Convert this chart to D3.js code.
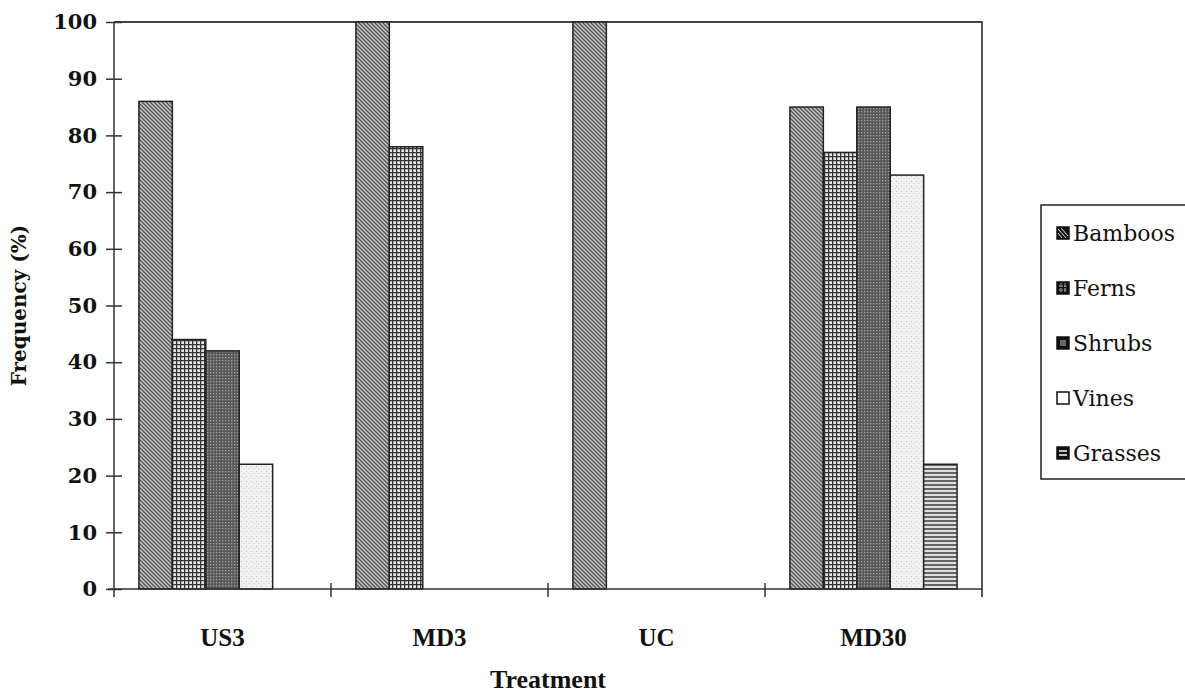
<!DOCTYPE html>
<html>
<head>
<meta charset="utf-8">
<title>Frequency by treatment</title>
<style>
    body { margin: 0; background: white; }
    text { font-family: "DejaVu Serif", serif; fill: #111; }
    .axis line, .axis path { stroke: #333; stroke-width: 1.5; }
</style>
</head>
<body>
<div id="chart"></div>
<script src="https://cdn.jsdelivr.net/npm/d3@7/dist/d3.min.js"></script>
<script>
    // data
    let treatments = ["US3", "MD3", "UC", "MD30"]
    let groups = ["Bamboos", "Ferns", "Shrubs", "Vines", "Grasses"]
    let bamboos = [86, 100, 100, 85]
    let ferns   = [44, 78, 0, 77]
    let shrubs  = [42, 0, 0, 85]
    let vines   = [22, 0, 0, 73]
    let grasses = [0, 0, 0, 22]
    let yTicks = [0, 10, 20, 30, 40, 50, 60, 70, 80, 90, 100]

    let series = [bamboos, ferns, shrubs, vines, grasses]

    let width = 1185, height = 695
    let plotLeft = 114, plotRight = 982, plotTop = 22, plotBottom = 589

    let svg = d3.select("#chart").append("svg")
        .attr("width", width)
        .attr("height", height)

    // fill patterns, roughly like the scanned hatching
    let defs = svg.append("defs")

    let p = defs.append("pattern").attr("id", "pat-Bamboos")
        .attr("patternUnits", "userSpaceOnUse").attr("width", 4).attr("height", 4)
    p.append("rect").attr("width", 4).attr("height", 4).attr("fill", "#c4c4c4")
    p.append("path").attr("d", "M-1,-1 L5,5 M-1,3 L1,5 M3,-1 L5,1")
        .attr("stroke", "#555").attr("stroke-width", 1.3)

    p = defs.append("pattern").attr("id", "pat-Ferns")
        .attr("patternUnits", "userSpaceOnUse").attr("width", 4).attr("height", 4)
    p.append("rect").attr("width", 4).attr("height", 4).attr("fill", "#e8e8e8")
    p.append("path").attr("d", "M0,0.6 H4 M0.6,0 V4")
        .attr("stroke", "#333").attr("stroke-width", 1.4)

    p = defs.append("pattern").attr("id", "pat-Shrubs")
        .attr("patternUnits", "userSpaceOnUse").attr("width", 3).attr("height", 3)
    p.append("rect").attr("width", 3).attr("height", 3).attr("fill", "#595959")
    p.append("rect").attr("x", 0).attr("y", 0).attr("width", 1.3).attr("height", 1.3).attr("fill", "#a0a0a0")

    p = defs.append("pattern").attr("id", "pat-Vines")
        .attr("patternUnits", "userSpaceOnUse").attr("width", 5).attr("height", 5)
    p.append("rect").attr("width", 5).attr("height", 5).attr("fill", "#f1f1f1")
    p.append("rect").attr("x", 1).attr("y", 1).attr("width", 1).attr("height", 1).attr("fill", "#c4c4c4")
    p.append("rect").attr("x", 3.5).attr("y", 3).attr("width", 1).attr("height", 1).attr("fill", "#d0d0d0")

    p = defs.append("pattern").attr("id", "pat-Grasses")
        .attr("patternUnits", "userSpaceOnUse").attr("width", 4).attr("height", 4)
    p.append("rect").attr("width", 4).attr("height", 4).attr("fill", "#e0e0e0")
    p.append("path").attr("d", "M0,1 H4").attr("stroke", "#3c3c3c").attr("stroke-width", 1.5)

    // scales
    let x = d3.scaleBand().domain(treatments).range([plotLeft, plotRight])
    let xInner = d3.scaleBand().domain(groups)
        .range([0, x.bandwidth()]).paddingOuter(0.745)
    let y = d3.scaleLinear().domain([0, 100]).range([plotBottom, plotTop])

    // plot frame (top and right)
    svg.append("path")
        .attr("d", "M" + plotLeft + "," + plotTop + " H" + plotRight + " V" + (plotBottom + 8))
        .attr("fill", "none").attr("stroke", "#444").attr("stroke-width", 1.8)

    // bars
    let rows = []
    treatments.forEach(function(t, i){
        groups.forEach(function(g, j){
            rows.push({t: t, g: g, v: series[j][i]})
        })
    })

    svg.append("g").selectAll("rect")
        .data(rows.filter(function(d){ return d.v > 0 }))
        .enter().append("rect")
        .attr("x", function(d){ return x(d.t) + xInner(d.g) })
        .attr("y", function(d){ return y(d.v) })
        .attr("width", xInner.bandwidth())
        .attr("height", function(d){ return y(0) - y(d.v) })
        .attr("fill", function(d){ return "url(#pat-" + d.g + ")" })
        .attr("stroke", "#222")
        .attr("stroke-width", 1.5)

    // y axis, ticks crossing the line
    let yAxis = svg.append("g").attr("class", "axis")
        .attr("transform", "translate(" + plotLeft + ",0)")
        .call(d3.axisLeft(y).tickValues(yTicks).tickSize(8).tickSizeOuter(0))
    yAxis.selectAll(".tick line").attr("x2", 8).attr("x1", -8)
    yAxis.selectAll("text")
        .attr("x", -17)
        .attr("font-size", 21).attr("font-weight", "bold")
        .style("font-family", "DejaVu Serif")
        .style("fill", "#111")
    yAxis.select(".domain").attr("d", "M0," + plotTop + "V" + (plotBottom + 8))

    // x axis, ticks between categories
    let xAxis = svg.append("g").attr("class", "axis")
        .attr("transform", "translate(0," + plotBottom + ")")
    xAxis.append("line").attr("x1", plotLeft - 6).attr("x2", plotRight).attr("y1", 0).attr("y2", 0)
    xAxis.selectAll(".sep")
        .data(treatments.slice(1))
        .enter().append("line")
        .attr("x1", function(d){ return x(d) }).attr("x2", function(d){ return x(d) })
        .attr("y1", -6).attr("y2", 8)
        .attr("stroke-width", 1)
    xAxis.selectAll(".lab")
        .data(treatments)
        .enter().append("text")
        .attr("x", function(d){ return x(d) + x.bandwidth() / 2 })
        .attr("y", 57)
        .attr("text-anchor", "middle")
        .attr("font-size", 25)
        .attr("font-weight", "bold")
        .style("font-family", "Liberation Serif")
        .text(function(d){ return d })

    // axis titles
    svg.append("text")
        .attr("x", (plotLeft + plotRight) / 2).attr("y", 688)
        .attr("text-anchor", "middle")
        .attr("font-size", 26).attr("font-weight", "bold")
        .style("font-family", "Liberation Serif")
        .text("Treatment")

    svg.append("text")
        .attr("transform", "translate(26," + ((plotTop + plotBottom) / 2) + ") rotate(-90)")
        .attr("text-anchor", "middle")
        .attr("font-size", 20).attr("font-weight", "bold")
        .text("Frequency (%)")

    // legend
    let legend = svg.append("g").attr("transform", "translate(1041,205)")
    legend.append("rect")
        .attr("width", 170).attr("height", 274)
        .attr("fill", "white").attr("stroke", "#222").attr("stroke-width", 1.5)

    let swatch = d3.scalePoint().domain(groups).range([28, 248])

    let items = legend.selectAll(".item")
        .data(groups)
        .enter().append("g")
        .attr("transform", function(d){ return "translate(16," + swatch(d) + ")" })

    items.append("rect")
        .attr("y", -6).attr("width", 12).attr("height", 12)
        .attr("fill", function(d){
            if (d === "Vines") return "white"
            return "#111"
        })
        .attr("stroke", "#111").attr("stroke-width", 1.5)

    // white marks inside the dark swatches
    items.filter(function(d){ return d === "Bamboos" }).append("path")
        .attr("d", "M1,-4 L9,5 M4,-5 L11,3 M1,0 L5,5")
        .attr("stroke", "#ddd").attr("stroke-width", 1)
    items.filter(function(d){ return d === "Ferns" }).append("path")
        .attr("d", "M2,-2 H10 M2,2 H10 M4,-5 V5 M8,-5 V5")
        .attr("stroke", "#ccc").attr("stroke-width", 1).attr("stroke-dasharray", "1.5,1")
    items.filter(function(d){ return d === "Shrubs" }).append("rect")
        .attr("x", 3).attr("y", -3).attr("width", 6).attr("height", 6)
        .attr("fill", "#666")
    items.filter(function(d){ return d === "Grasses" }).append("path")
        .attr("d", "M2,-2 H10 M2,2 H10")
        .attr("stroke", "white").attr("stroke-width", 1.6)

    items.append("text")
        .attr("x", 16).attr("y", 8)
        .attr("font-size", 22)
        .text(function(d){ return d })
</script>
</body>
</html>
